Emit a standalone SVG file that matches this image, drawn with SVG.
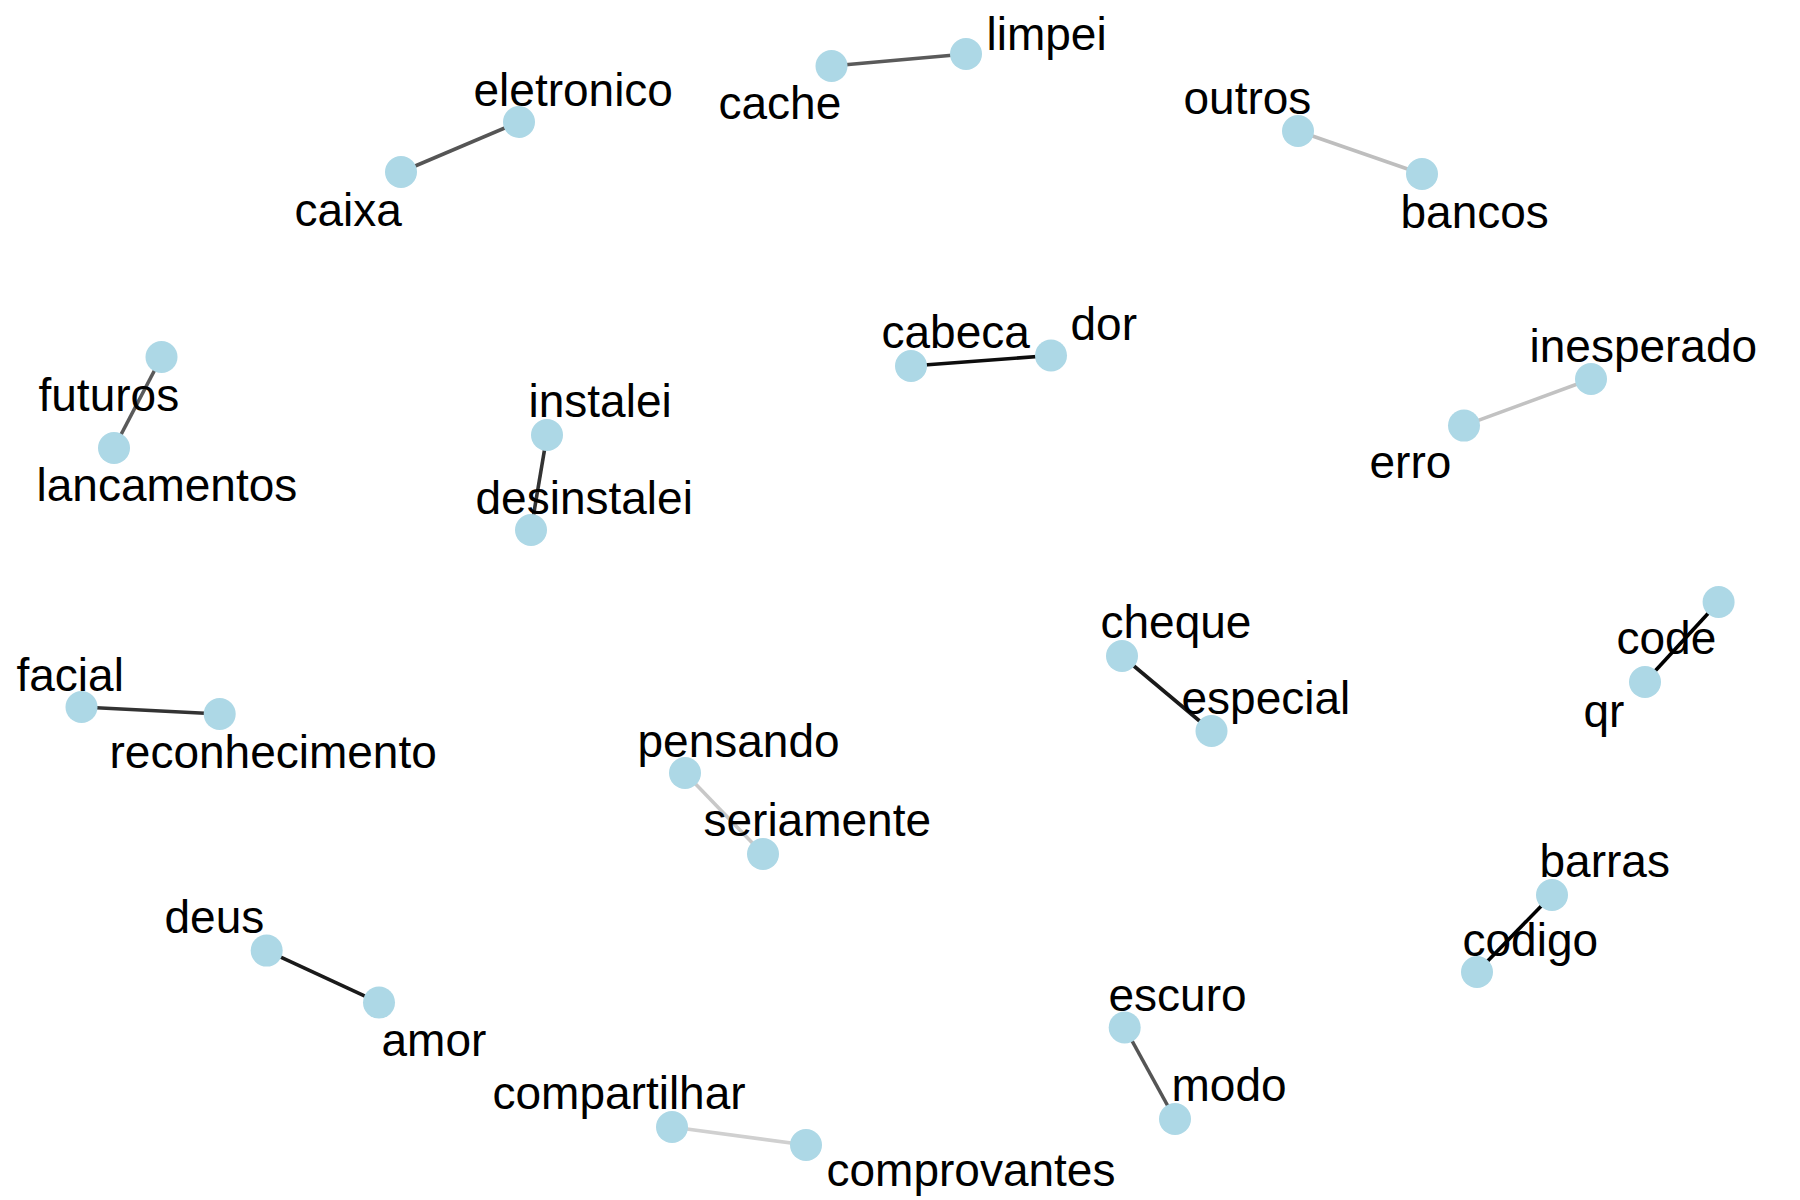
<svg xmlns="http://www.w3.org/2000/svg" width="1800" height="1200" viewBox="0 0 1800 1200">
<style>
.n{fill:#ADD8E6;stroke:none}
.t{font-family:"Liberation Sans",Arial,Helvetica,sans-serif;font-size:46px;fill:#000;transform:translate(1.5px,1.5px)}
.e{stroke-width:3.6;fill:none;stroke-linecap:butt}
</style>
<rect width="1800" height="1200" fill="#fff"/>
<g id="edges">
<line class="e" x1="401" y1="172" x2="519" y2="122" stroke="#555"/>
<line class="e" x1="831.5" y1="66" x2="966" y2="54" stroke="#5a5a5a"/>
<line class="e" x1="1298" y1="131" x2="1422" y2="174" stroke="#bebebe"/>
<line class="e" x1="161.5" y1="357" x2="114" y2="448" stroke="#5a5a5a"/>
<line class="e" x1="547" y1="435" x2="531" y2="530" stroke="#333"/>
<line class="e" x1="911" y1="366" x2="1051" y2="355.5" stroke="#0d0d0d"/>
<line class="e" x1="1591" y1="379" x2="1464" y2="425.6" stroke="#c2c2c2"/>
<line class="e" x1="1122" y1="656" x2="1211.5" y2="731" stroke="#1a1a1a"/>
<line class="e" x1="1718.6" y1="602" x2="1645" y2="682" stroke="#000"/>
<line class="e" x1="81.5" y1="707" x2="219.7" y2="714" stroke="#333"/>
<line class="e" x1="685" y1="773" x2="763" y2="854" stroke="#c8c8c8"/>
<line class="e" x1="1552" y1="895" x2="1477" y2="972" stroke="#000"/>
<line class="e" x1="266.7" y1="950.6" x2="379" y2="1002.6" stroke="#1a1a1a"/>
<line class="e" x1="1124.7" y1="1027.5" x2="1175" y2="1119" stroke="#555"/>
<line class="e" x1="672" y1="1127" x2="806" y2="1145" stroke="#d0d0d0"/>
</g>
<g id="node-eletronico"><circle class="n" cx="519" cy="122" r="16"/><text class="t" x="472" y="104">eletronico</text></g>
<g id="node-caixa"><circle class="n" cx="401" cy="172" r="16"/><text class="t" x="293" y="224">caixa</text></g>
<g id="node-cache"><circle class="n" cx="831.5" cy="66" r="16"/><text class="t" x="717" y="117">cache</text></g>
<g id="node-limpei"><circle class="n" cx="966" cy="54" r="16"/><text class="t" x="985" y="48">limpei</text></g>
<g id="node-outros"><circle class="n" cx="1298" cy="131" r="16"/><text class="t" x="1182" y="112">outros</text></g>
<g id="node-bancos"><circle class="n" cx="1422" cy="174" r="16"/><text class="t" x="1399" y="226">bancos</text></g>
<g id="node-futuros"><circle class="n" cx="161.5" cy="357" r="16"/><text class="t" x="37" y="409.5">futuros</text></g>
<g id="node-lancamentos"><circle class="n" cx="114" cy="448" r="16"/><text class="t" x="35" y="499">lancamentos</text></g>
<g id="node-instalei"><circle class="n" cx="547" cy="435" r="16"/><text class="t" x="527" y="415">instalei</text></g>
<g id="node-desinstalei"><circle class="n" cx="531" cy="530" r="16"/><text class="t" x="474" y="512">desinstalei</text></g>
<g id="node-cabeca"><circle class="n" cx="911" cy="366" r="16"/><text class="t" x="880" y="346">cabeca</text></g>
<g id="node-dor"><circle class="n" cx="1051" cy="355.5" r="16"/><text class="t" x="1069" y="338">dor</text></g>
<g id="node-inesperado"><circle class="n" cx="1591" cy="379" r="16"/><text class="t" x="1528" y="360">inesperado</text></g>
<g id="node-erro"><circle class="n" cx="1464" cy="425.6" r="16"/><text class="t" x="1368" y="476.5">erro</text></g>
<g id="node-cheque"><circle class="n" cx="1122" cy="656" r="16"/><text class="t" x="1099" y="636">cheque</text></g>
<g id="node-especial"><circle class="n" cx="1211.5" cy="731" r="16"/><text class="t" x="1180" y="712">especial</text></g>
<g id="node-code"><circle class="n" cx="1718.6" cy="602" r="16"/><text class="t" x="1615" y="652">code</text></g>
<g id="node-qr"><circle class="n" cx="1645" cy="682" r="16"/><text class="t" x="1582" y="725.5">qr</text></g>
<g id="node-facial"><circle class="n" cx="81.5" cy="707" r="16"/><text class="t" x="15" y="689">facial</text></g>
<g id="node-reconhecimento"><circle class="n" cx="219.7" cy="714" r="16"/><text class="t" x="108" y="766.5">reconhecimento</text></g>
<g id="node-pensando"><circle class="n" cx="685" cy="773" r="16"/><text class="t" x="636" y="755">pensando</text></g>
<g id="node-seriamente"><circle class="n" cx="763" cy="854" r="16"/><text class="t" x="702" y="834">seriamente</text></g>
<g id="node-barras"><circle class="n" cx="1552" cy="895" r="16"/><text class="t" x="1538" y="875.5">barras</text></g>
<g id="node-codigo"><circle class="n" cx="1477" cy="972" r="16"/><text class="t" x="1461" y="954">codigo</text></g>
<g id="node-deus"><circle class="n" cx="266.7" cy="950.6" r="16"/><text class="t" x="163" y="931">deus</text></g>
<g id="node-amor"><circle class="n" cx="379" cy="1002.6" r="16"/><text class="t" x="380" y="1054">amor</text></g>
<g id="node-escuro"><circle class="n" cx="1124.7" cy="1027.5" r="16"/><text class="t" x="1107" y="1009">escuro</text></g>
<g id="node-modo"><circle class="n" cx="1175" cy="1119" r="16"/><text class="t" x="1170" y="1099">modo</text></g>
<g id="node-compartilhar"><circle class="n" cx="672" cy="1127" r="16"/><text class="t" x="491" y="1107">compartilhar</text></g>
<g id="node-comprovantes"><circle class="n" cx="806" cy="1145" r="16"/><text class="t" x="825" y="1184">comprovantes</text></g>
</svg>
